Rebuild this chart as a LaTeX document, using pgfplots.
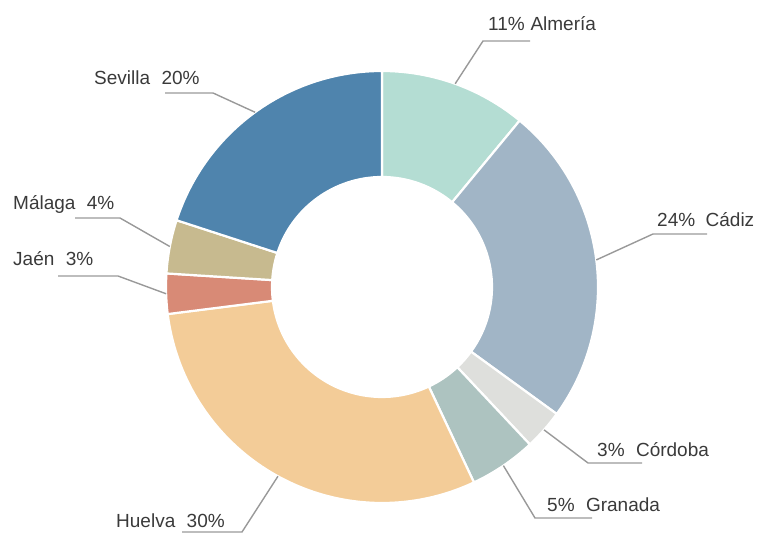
\documentclass[border=0pt]{standalone}
\usepackage{pgfplots}
\pgfplotsset{compat=1.18}
\usepackage{fontspec}
\setmainfont{Liberation Sans}

\definecolor{c1}{HTML}{B4DDD3}% Almeria
\definecolor{c2}{HTML}{A1B5C6}% Cadiz
\definecolor{c3}{HTML}{DEDFDC}% Cordoba
\definecolor{c4}{HTML}{ADC3C0}% Granada
\definecolor{c5}{HTML}{F3CC98}% Huelva
\definecolor{c6}{HTML}{D88A76}% Jaen
\definecolor{c7}{HTML}{C7BA8F}% Malaga
\definecolor{c8}{HTML}{4F84AD}% Sevilla
\definecolor{txt}{HTML}{3A3A3A}
\definecolor{lead}{HTML}{999999}

\def\Ro{216}\def\Ri{110}
% shares in percent, clockwise from 12 o'clock
\def\cum{0}
\foreach \v [count=\i] in {11,24,3,5,30,3,4,20} {
  \pgfmathsetmacro\aS{90-3.6*\cum}
  \pgfmathsetmacro\aE{90-3.6*(\cum+\v)}
  \pgfmathsetmacro\aM{(\aS+\aE)/2}
  \expandafter\xdef\csname aS\i\endcsname{\aS}
  \expandafter\xdef\csname aE\i\endcsname{\aE}
  \expandafter\xdef\csname aM\i\endcsname{\aM}
  \pgfmathsetmacro\nc{\cum+\v}
  \global\let\cum\nc
}

% #1 slice, #2,#3 elbow, #4 end of underline, #5,#6 text, #7 text
\newcommand\leader[7]{%
  \draw[lead, line width=1.4pt]
    (axis cs:{\Ro*cos(\csname aM#1\endcsname)},{\Ro*sin(\csname aM#1\endcsname)})
    -- (axis cs:#2,#3) -- (axis cs:#4,#3);
  \node[anchor=base west, inner sep=0pt, text=txt, font=\fontsize{19}{21}\selectfont]
    at (axis cs:#5,#6) {#7};
}

\begin{document}
\begin{tikzpicture}
\begin{axis}[
  width=762pt, height=534pt, scale only axis,
  xmin=-382, xmax=380, ymin=-247, ymax=287,
  hide axis, clip=false,
]
\path (axis cs:-382,-247) rectangle (axis cs:380,287);
\pgfplotsinvokeforeach{1,...,8}{
  \fill[c#1, draw=white, line width=2.2pt]
    (axis cs:{\Ro*cos(\csname aS#1\endcsname)},{\Ro*sin(\csname aS#1\endcsname)})
    arc[start angle=\csname aS#1\endcsname, end angle=\csname aE#1\endcsname, radius=\Ro pt]
    -- (axis cs:{\Ri*cos(\csname aE#1\endcsname)},{\Ri*sin(\csname aE#1\endcsname)})
    arc[start angle=\csname aE#1\endcsname, end angle=\csname aS#1\endcsname, radius=\Ri pt]
    -- cycle;
}
\leader{1}{101}{246}{148}{106}{256}{11\%\hspace{0.3em}Almería}
\leader{2}{271}{53}{325}{275}{60}{24\%\hspace{0.55em}Cádiz}
\leader{3}{206}{-176}{260}{215}{-170}{3\%\hspace{0.6em}Córdoba}
\leader{4}{153}{-231}{210}{165}{-225}{5\%\hspace{0.6em}Granada}
\leader{5}{-140}{-245}{-200}{-266}{-241}{Huelva\hspace{0.6em}30\%}
\leader{6}{-264}{11}{-324}{-369}{21}{Jaén\hspace{0.6em}3\%}
\leader{7}{-262}{69}{-307}{-369}{77}{Málaga\hspace{0.6em}4\%}
\leader{8}{-169}{194}{-217}{-288}{202}{Sevilla\hspace{0.6em}20\%}
\end{axis}
\end{tikzpicture}
\end{document}
